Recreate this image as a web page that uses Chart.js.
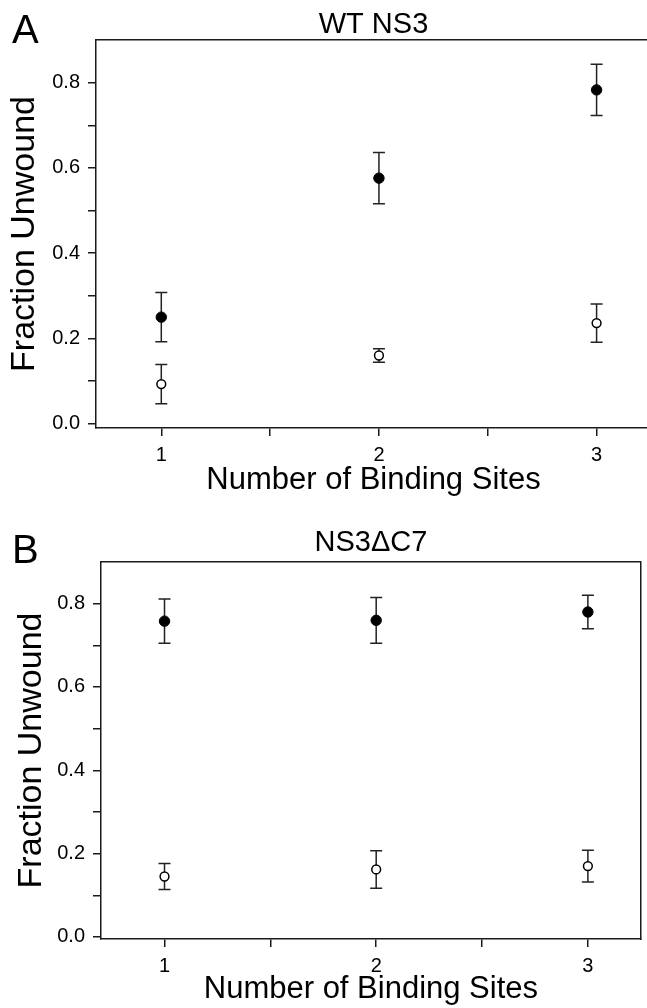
<!DOCTYPE html>
<html><head><meta charset="utf-8">
<script src="https://cdn.jsdelivr.net/npm/chart.js@4.4.0/dist/chart.umd.min.js"></script>
<style>
html,body{margin:0;padding:0;background:#fff;overflow:hidden;width:647px;height:1008px;position:relative;}
#wrapA{position:absolute;left:0;top:0;width:660px;height:504px;}
#wrapB{position:absolute;left:0;top:504px;width:647px;height:504px;}
.panel{position:absolute;font-family:"Liberation Sans",Arial,Helvetica,sans-serif;font-size:40px;line-height:40px;color:#000;}
</style></head><body>
<div id="wrapA"><canvas id="cA" width="660" height="504"></canvas></div>
<div id="wrapB"><canvas id="cB" width="647" height="504"></canvas></div>
<div class="panel" style="left:12px;top:9px">A</div>
<div class="panel" style="left:12px;top:529px">B</div>
<script>
// ---- data ----
const bindingSites = [1, 2, 3];
const xTickValues = [1, 1.5, 2, 2.5, 3];
const yTickValues = [0, 0.1, 0.2, 0.3, 0.4, 0.5, 0.6, 0.7, 0.8];

const wtFilled = [0.250, 0.576, 0.783];
const wtFilledErr = [0.058, 0.060, 0.060];
const wtOpen = [0.093, 0.160, 0.236];
const wtOpenErr = [0.046, 0.016, 0.045];

const dcFilled = [0.758, 0.760, 0.780];
const dcFilledErr = [0.053, 0.055, 0.040];
const dcOpen = [0.145, 0.162, 0.170];
const dcOpenErr = [0.031, 0.045, 0.038];

const titleA = 'WT NS3';
const titleB = 'NS3\u0394C7';
const xTitle = 'Number of Binding Sites';
const yTitle = 'Fraction Unwound';

const FONT = '"Liberation Sans", Arial, Helvetica, sans-serif';
const AX = '#1a1a1a';

const errorBars = {
  id: 'errorBars',
  beforeDatasetsDraw(chart) {
    const {ctx, scales: {x, y}} = chart;
    ctx.save();
    ctx.strokeStyle = '#222';
    ctx.lineWidth = 1.5;
    chart.data.datasets.forEach(ds => {
      ds.data.forEach((p, i) => {
        const e = ds.errors[i];
        const px = x.getPixelForValue(p.x);
        const t = y.getPixelForValue(p.y + e);
        const b = y.getPixelForValue(p.y - e);
        ctx.beginPath();
        ctx.moveTo(px, t); ctx.lineTo(px, b);
        ctx.moveTo(px - 6, t); ctx.lineTo(px + 6, t);
        ctx.moveTo(px - 6, b); ctx.lineTo(px + 6, b);
        ctx.stroke();
      });
    });
    ctx.restore();
  }
};

function build(id, title, filled, filledErr, open, openErr, g) {
  const toPts = arr => arr.map((v, i) => ({x: bindingSites[i], y: v}));
  return new Chart(document.getElementById(id), {
    type: 'scatter',
    data: {
      datasets: [
        {label: 'filled', data: toPts(filled), errors: filledErr,
         pointRadius: 5.2, pointBackgroundColor: '#000', pointBorderColor: '#000', pointBorderWidth: 1, showLine: false},
        {label: 'open', data: toPts(open), errors: openErr,
         pointRadius: 4.4, pointBackgroundColor: '#fff', pointBorderColor: '#000', pointBorderWidth: 1.5, showLine: false}
      ]
    },
    plugins: [errorBars],
    options: {
      responsive: false,
      animation: false,
      devicePixelRatio: 1,
      layout: {padding: {left: 0, right: g.padRight, top: 0, bottom: 0}},
      plugins: {legend: {display: false}, tooltip: {enabled: false}, title: {display: false}},
      scales: {
        x: {
          type: 'linear', position: 'bottom', min: 0.7, max: 3.25,
          afterBuildTicks: ax => { ax.ticks = xTickValues.map(v => ({value: v})); },
          afterFit: ax => { ax.height = g.bottomH; },
          ticks: {autoSkip: false, maxRotation: 0, padding: 7, color: '#000',
                  font: {family: FONT, size: 20},
                  callback: v => Number.isInteger(v) ? String(v) : ''},
          grid: {drawOnChartArea: false, drawTicks: true, tickLength: 8, color: AX, lineWidth: 1.5},
          border: {display: true, color: AX, width: 1.5},
          title: {display: true, text: xTitle, color: '#000',
                  font: {family: FONT, size: 31, lineHeight: 1.2}, padding: {top: 0, bottom: g.xTitlePad}}
        },
        x2: {
          type: 'linear', position: 'top', min: 0.7, max: 3.25,
          afterBuildTicks: ax => { ax.ticks = xTickValues.map(v => ({value: v})); },
          afterFit: ax => { ax.height = g.topH; },
          ticks: {display: false},
          grid: {drawOnChartArea: false, drawTicks: false},
          border: {display: true, color: AX, width: 1.5},
          title: {display: true, text: title, color: '#000',
                  font: {family: FONT, size: 29, lineHeight: 1.2}, padding: {top: g.titlePad, bottom: 0}}
        },
        y: {
          type: 'linear', position: 'left', min: g.ymin, max: 0.9,
          afterBuildTicks: ax => { ax.ticks = yTickValues.map(v => ({value: v})); },
          afterFit: ax => { ax.width = g.leftW; },
          ticks: {autoSkip: false, padding: 8, color: '#000',
                  font: {family: FONT, size: 20},
                  callback: v => (Math.round(v * 10) % 2 === 0) ? v.toFixed(1) : ''},
          grid: {drawOnChartArea: false, drawTicks: true, tickLength: 8, color: AX, lineWidth: 1.5},
          border: {display: true, color: AX, width: 1.5},
          title: {display: true, text: yTitle, color: '#000',
                  font: {family: FONT, size: 34, lineHeight: 1.2}, padding: {top: g.yTitlePad, bottom: 0}}
        },
        y2: {
          type: 'linear', position: 'right', min: g.ymin, max: 0.9,
          afterBuildTicks: ax => { ax.ticks = yTickValues.map(v => ({value: v})); },
          afterFit: ax => { ax.width = 0; },
          ticks: {display: false},
          grid: {drawOnChartArea: false, drawTicks: false},
          border: {display: true, color: AX, width: 1.5}
        }
      }
    }
  });
}

build('cA', titleA, wtFilled, wtFilledErr, wtOpen, wtOpenErr,
  {padRight: 9, bottomH: 76, topH: 40, leftW: 96, ymin: -0.01, xTitlePad: 5, titlePad: 8, yTitlePad: 4});
build('cB', titleB, dcFilled, dcFilledErr, dcOpen, dcOpenErr,
  {padRight: 4, bottomH: 69, topH: 58, leftW: 101, ymin: -0.005, xTitlePad: 0, titlePad: 22, yTitlePad: 11});
</script>
</body></html>
